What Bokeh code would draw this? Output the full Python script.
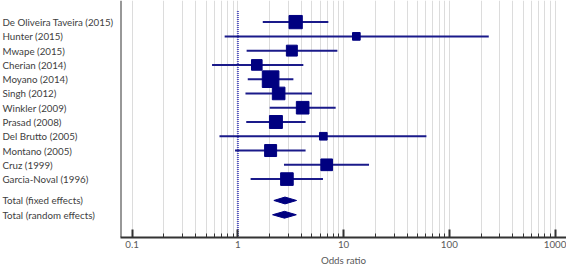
from bokeh.plotting import figure
from bokeh.models import Range1d, FixedTicker, Span
from bokeh.layouts import row
from bokeh.core.properties import value
from bokeh.embed import file_html
from bokeh.resources import INLINE
import math

# ---- data ----
studies = ["De Oliveira Taveira (2015)", "Hunter (2015)", "Mwape (2015)", "Cherian (2014)",
           "Moyano (2014)", "Singh (2012)", "Winkler (2009)", "Prasad (2008)",
           "Del Brutto (2005)", "Montano (2005)", "Cruz (1999)", "Garcia-Noval (1996)"]
odds_ratio = [3.52, 13.2, 3.24, 1.51, 2.04, 2.43, 4.10, 2.29, 6.43, 2.04, 6.92, 2.91]
ci_low = [1.72, 0.75, 1.21, 0.57, 1.24, 1.18, 2.00, 1.20, 0.67, 0.94, 2.73, 1.32]
ci_high = [7.17, 236.0, 8.73, 4.16, 3.35, 5.02, 8.41, 4.37, 60.7, 4.37, 17.4, 6.38]
weights = [10.2, 3.4, 6.9, 6.5, 16.0, 9.2, 9.2, 9.7, 3.4, 8.3, 7.9, 9.2]

totals = ["Total (fixed effects)", "Total (random effects)"]
total_or = [2.79, 2.76]
total_low = [2.19, 2.13]
total_high = [3.59, 3.57]

tick_values = [0.1, 1, 10, 100, 1000]
tick_labels = ["0.1", "1", "10", "100", "1000"]
x_label = "Odds ratio"

# ---- layout helpers ----
study_rows = list(range(1, len(studies) + 1))
total_rows = [len(studies) + 1.5, len(studies) + 2.5]
y_range = Range1d(16.094, -0.514)

NAVY = "#000080"
FONT = "Lato"
FS = "9.75px"
H = 268
BOTTOM = 30

# left label panel
lp = figure(width=120, height=H, x_range=Range1d(0, 120), y_range=y_range,
            output_backend="svg", toolbar_location=None,
            min_border_left=0, min_border_right=0, min_border_top=0, min_border_bottom=BOTTOM,
            x_axis_location=None, y_axis_location=None)
lp.outline_line_color = None
lp.xgrid.visible = False
lp.ygrid.visible = False
lp.text(x=[2] * (len(studies) + 2), y=study_rows + total_rows, text=studies + totals,
        text_font=value(FONT), text_font_size=FS, text_color="#404040",
        text_align="left", text_baseline="middle")

# forest panel
p = figure(width=446, height=H, x_axis_type="log", x_range=Range1d(0.0776, 1283),
           y_range=y_range, output_backend="svg", toolbar_location=None,
           min_border_left=0, min_border_right=0, min_border_top=0, min_border_bottom=BOTTOM,
           y_axis_location=None)
p.outline_line_color = None
p.ygrid.visible = False

minor = []
for t in tick_values[:-1]:
    minor += [t * k for k in range(2, 10)]
ticker = FixedTicker(ticks=tick_values, minor_ticks=minor)
p.xaxis.ticker = ticker
p.xgrid.ticker = ticker
p.xgrid.grid_line_color = "#dcdcdc"
p.xgrid.minor_grid_line_color = "#dcdcdc"
p.xgrid.grid_line_width = 1

p.xaxis.major_label_overrides = {v: s for v, s in zip(tick_values, tick_labels)}
p.xaxis.axis_line_color = "#333333"
p.xaxis.axis_line_width = 2
p.xaxis.major_tick_in = 8
p.xaxis.major_tick_out = 0
p.xaxis.minor_tick_in = 4
p.xaxis.minor_tick_out = 0
p.xaxis.major_tick_line_width = 2
p.xaxis.major_tick_line_color = "#333333"
p.xaxis.minor_tick_line_color = "#333333"
p.xaxis.major_label_text_font = FONT
p.xaxis.major_label_text_font_size = FS
p.xaxis.major_label_text_color = "#595959"
p.xaxis.major_label_standoff = 3
p.xaxis.axis_label = x_label
p.xaxis.axis_label_text_font = FONT
p.xaxis.axis_label_text_font_size = FS
p.xaxis.axis_label_text_font_style = "normal"
p.xaxis.axis_label_text_color = "#595959"
p.xaxis.axis_label_standoff = 3

# left axis line
p.add_layout(Span(location=0.0776, dimension="height", line_color="#333333", line_width=2))

# line of no effect
p.segment(x0=[1], y0=[0.23], x1=[1], y1=[16.094], line_color="#5050c0",
          line_width=2, line_dash="1 1")

# CIs
p.segment(x0=ci_low, y0=study_rows, x1=ci_high, y1=study_rows, line_color="#1a1a8a", line_width=2)

# squares
sizes = [4.16 * math.sqrt(w) for w in weights]
p.scatter(x=odds_ratio, y=study_rows, size=sizes, marker="square",
          fill_color=NAVY, line_color=NAVY)

# diamonds
h = 0.24
xs = [[lo, est, hi, est] for lo, est, hi in zip(total_low, total_or, total_high)]
ys = [[r, r - h, r, r + h] for r in total_rows]
p.patches(xs=xs, ys=ys, fill_color=NAVY, line_color=NAVY)

layout = row(lp, p)
open("out.html", "w").write(file_html(layout, INLINE))
